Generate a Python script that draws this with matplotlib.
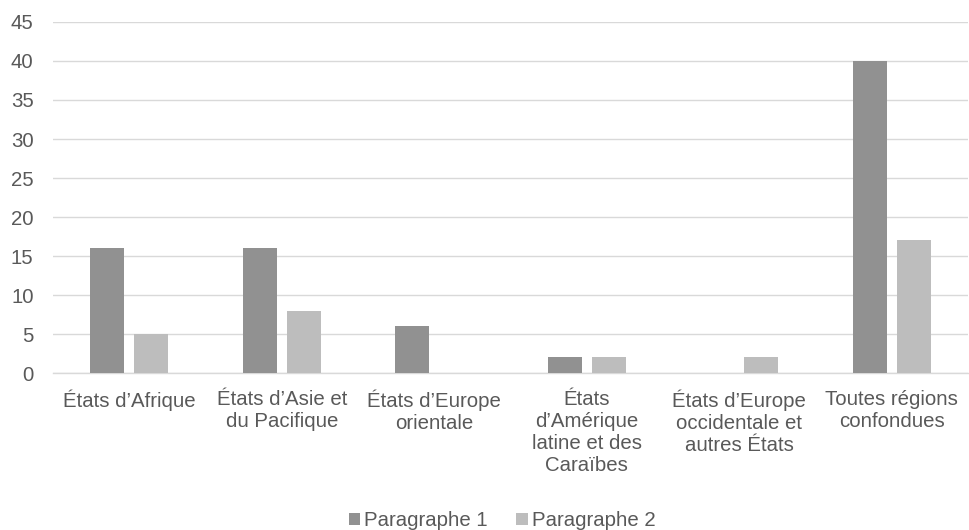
import matplotlib
matplotlib.use("Agg")
import matplotlib.pyplot as plt
import numpy as np

plt.rcParams['font.family'] = ['Liberation Sans', 'DejaVu Sans']

categories = [
    "États d’Afrique",
    "États d’Asie et\ndu Pacifique",
    "États d’Europe\norientale",
    "États\nd’Amérique\nlatine et des\nCaraïbes",
    "États d’Europe\noccidentale et\nautres États",
    "Toutes régions\nconfondues",
]
paragraphe_1 = [16, 16, 6, 2, 0, 40]
paragraphe_2 = [5, 8, 0, 2, 2, 17]
series_names = ["Paragraphe 1", "Paragraphe 2"]

dark = "#919191"
light = "#bdbdbd"
text_color = "#595959"
grid_color = "#d9d9d9"
fs = 14.7

fig = plt.figure(figsize=(9.7, 5.3), dpi=100)
ax = fig.add_axes([0.0546, 0.2962, 0.9434, 0.6623])

x = np.arange(len(categories))
w = 0.223
off = w / 2 + 0.033
ax.bar(x - off, paragraphe_1, width=w, color=dark, label=series_names[0], zorder=3)
ax.bar(x + off, paragraphe_2, width=w, color=light, label=series_names[1], zorder=3)

ax.set_xlim(-0.5, len(categories) - 0.5)
ax.set_ylim(0, 45)
ax.set_yticks(np.arange(0, 46, 5))
ax.yaxis.grid(True, color=grid_color, linewidth=1.0, zorder=0)
ax.set_axisbelow(True)
for s in ["top", "right", "left"]:
    ax.spines[s].set_visible(False)
ax.spines["bottom"].set_color(grid_color)
ax.spines["bottom"].set_linewidth(1.0)

ax.set_xticks(x)
ax.set_xticklabels(categories, fontsize=fs, color=text_color, linespacing=1.2)
ax.tick_params(axis="x", length=0, pad=12)
ax.tick_params(axis="y", length=0, pad=14, labelsize=fs, labelcolor=text_color)

leg = fig.legend(loc="center", bbox_to_anchor=(502 / 970, 1 - 521 / 530), ncol=2, frameon=False,
                 fontsize=fs, handlelength=0.55, handleheight=0.55, handletextpad=0.2,
                 columnspacing=1.4, borderpad=0)
for t in leg.get_texts():
    t.set_color(text_color)

fig.savefig("out.png", dpi=100)
